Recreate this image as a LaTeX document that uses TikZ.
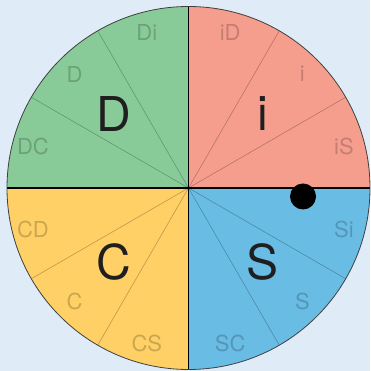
\documentclass[tikz,border=0pt]{standalone}
\usepackage{fontspec}
\setmainfont{TeX Gyre Heros}
\usetikzlibrary{calc}
\definecolor{bgc}{HTML}{DFEBF7}
\definecolor{dgreen}{HTML}{89CB98}
\definecolor{dred}{HTML}{F59E8E}
\definecolor{dyellow}{HTML}{FED065}
\definecolor{dblue}{HTML}{69BCE4}
\begin{document}
\begin{tikzpicture}[x=1pt,y=1pt,
  sublabel/.style={font=\fontsize{22}{22}\selectfont, text=black, text opacity=0.2, inner sep=0pt},
  biglabel/.style={font=\fontsize{48}{48}\selectfont, text=black!88, inner sep=0pt},
  subline/.style={draw=black, draw opacity=0.3, line width=0.5pt},
  quadline/.style={draw=black, line width=1.1pt},
  dotnode/.style={circle, fill=black, minimum size=26pt, inner sep=0pt}]
\fill[bgc] (0,0) rectangle (370,371);
\useasboundingbox (0,0) rectangle (370,371);
\coordinate (c) at (188.5,183);
\def\R{181.5}
\fill[dred] (c) -- ++(0:\R) arc (0:90:\R) -- cycle;
\fill[dgreen] (c) -- ++(90:\R) arc (90:180:\R) -- cycle;
\fill[dyellow] (c) -- ++(180:\R) arc (180:270:\R) -- cycle;
\fill[dblue] (c) -- ++(270:\R) arc (270:360:\R) -- cycle;
\foreach \a in {30,60,120,150,210,240,300,330}{
  \coordinate (e\a) at ($(c)+(\a:\R)$);
  \draw[subline] (c) -- (e\a);
}
\coordinate (q0) at ($(c)+(0:\R)$);
\coordinate (q90) at ($(c)+(90:\R)$);
\coordinate (q180) at ($(c)+(180:\R)$);
\coordinate (q270) at ($(c)+(270:\R)$);
\draw[quadline] (q180) -- (q0);
\draw[quadline] (q270) -- (q90);
\draw[black!75, line width=0.8pt] (c) circle (\R);
% big labels
\node[biglabel] (bD) at ($(c)+(135:105)$) {D};
\node[biglabel] (bi) at ($(c)+(45:105)$) {i};
\node[biglabel] (bC) at ($(c)+(225:105)$) {C};
\node[biglabel] (bS) at ($(c)+(315:105)$) {S};
% small labels
\node[sublabel] (iS) at ($(c)+(15:161)$) {iS};
\node[sublabel] (ii) at ($(c)+(45:161)$) {i};
\node[sublabel] (iD) at ($(c)+(75:161)$) {iD};
\node[sublabel] (Di) at ($(c)+(105:161)$) {Di};
\node[sublabel] (DD) at ($(c)+(135:161)$) {D};
\node[sublabel] (DC) at ($(c)+(165:161)$) {DC};
\node[sublabel] (CD) at ($(c)+(195:161)$) {CD};
\node[sublabel] (CC) at ($(c)+(225:161)$) {C};
\node[sublabel] (CS) at ($(c)+(255:161)$) {CS};
\node[sublabel] (SC) at ($(c)+(285:161)$) {SC};
\node[sublabel] (SS) at ($(c)+(315:161)$) {S};
\node[sublabel] (Si) at ($(c)+(345:161)$) {Si};
% dot
\node[dotnode] (dot) at (303,174.5) {};
\end{tikzpicture}
\end{document}
